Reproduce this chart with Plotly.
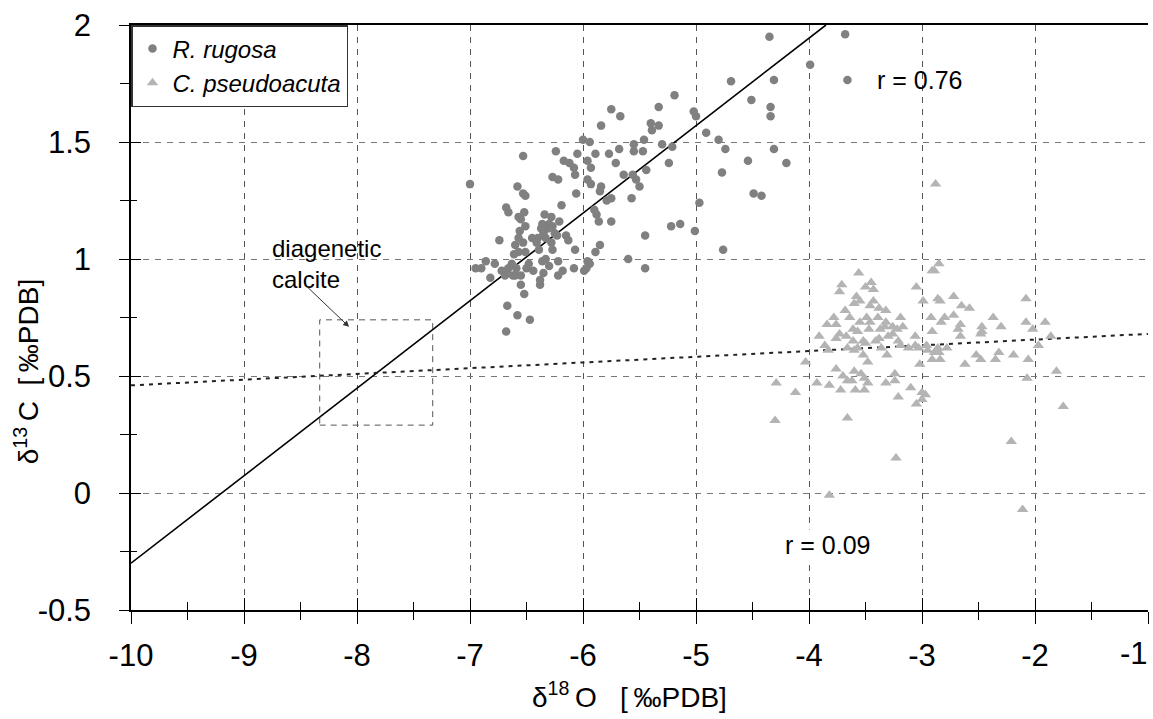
import plotly.graph_objects as go

# ---------------- data ----------------
rugosa_x = [
    -7.00, -6.58, -6.53, -6.51, -6.27, -6.22, -6.07, -5.96, -5.93, -5.84, -5.85, -5.64, -5.56, -5.53, -5.50,
    -6.06, -6.19, -5.79, -5.75, -5.57, -6.68, -6.66, -6.52, -6.57, -6.55, -6.34, -6.28, -6.36, -6.30, -6.21,
    -5.90, -5.88, -5.86, -5.75, -6.51, -6.56, -6.37, -6.31, -6.27, -6.35, -6.25, -6.15, -6.13, -6.45, -6.40,
    -6.33, -6.23, -6.74, -6.57, -6.41, -6.28, -6.60, -6.53, -6.39, -6.27, -6.57, -6.51, -6.61, -6.07, -5.85,
    -5.89, -5.45, -5.60, -5.45, -5.96, -5.94, -5.97, -5.99, -6.08, -6.18, -6.22, -6.22, -6.30, -6.33, -6.36,
    -6.35, -6.38, -6.38, -6.44, -6.48, -6.50, -6.55, -6.55, -6.52, -6.59, -6.63, -6.66, -6.69, -6.72, -6.78,
    -6.86, -6.90, -6.95, -6.82, -6.62, -6.68, -6.60, -6.67, -6.58, -6.47, -6.68,
    -6.53, -6.24, -6.05, -6.00, -5.94, -6.17, -6.12, -6.08, -5.96, -5.89, -5.93, -5.71, -5.77, -5.68, -5.55,
    -5.55, -5.47, -5.46, -5.44, -5.39, -5.40, -5.33, -5.33, -5.19, -5.75, -5.67, -5.84, -5.30, -5.21, -5.24,
    -5.02, -5.00, -4.91, -4.80, -4.74, -4.54, -4.77, -4.49, -4.42, -4.20, -4.31, -4.34, -4.34, -4.97, -5.22,
    -5.14, -5.01, -4.76,
    -4.35, -3.68, -3.99, -3.66, -4.31, -4.69, -4.51,
]
rugosa_y = [
    1.32, 1.31, 1.28, 1.27, 1.35, 1.34, 1.36, 1.34, 1.32, 1.31, 1.29, 1.36, 1.36, 1.34, 1.31,
    1.28, 1.23, 1.25, 1.26, 1.26, 1.22, 1.20, 1.20, 1.18, 1.17, 1.19, 1.18, 1.15, 1.15, 1.16,
    1.21, 1.19, 1.16, 1.16, 1.14, 1.12, 1.13, 1.13, 1.14, 1.11, 1.11, 1.10, 1.08, 1.09, 1.09,
    1.09, 1.10, 1.08, 1.09, 1.07, 1.07, 1.06, 1.07, 1.04, 1.04, 1.03, 1.03, 1.02, 1.04, 1.06,
    1.03, 1.10, 1.00, 0.96, 0.99, 0.98, 0.96, 0.95, 0.96, 0.95, 0.99, 0.93, 0.97, 1.00, 0.99,
    0.94, 0.91, 0.89, 0.95, 0.98, 0.96, 0.93, 0.89, 0.85, 0.96, 0.98, 0.96, 0.93, 0.95, 0.98,
    0.99, 0.96, 0.96, 0.92, 0.93, 0.95, 0.93, 0.80, 0.76, 0.74, 0.69,
    1.44, 1.46, 1.45, 1.51, 1.50, 1.42, 1.41, 1.39, 1.42, 1.45, 1.39, 1.41, 1.45, 1.47, 1.49,
    1.46, 1.46, 1.51, 1.38, 1.55, 1.58, 1.57, 1.65, 1.70, 1.64, 1.61, 1.57, 1.49, 1.48, 1.41,
    1.63, 1.61, 1.54, 1.51, 1.47, 1.42, 1.37, 1.28, 1.27, 1.41, 1.47, 1.65, 1.61, 1.24, 1.14,
    1.15, 1.12, 1.04,
    1.95, 1.96, 1.83, 1.765, 1.765, 1.76, 1.68,
]

pseudo_x = [
    -3.56, -3.71, -3.73, -3.45, -3.50, -3.43, -3.58, -3.60, -3.55, -3.43, -3.46, -3.68, -3.38, -3.32, -3.78,
    -3.84, -3.76, -3.64, -3.55, -3.49, -3.46, -3.39, -3.32, -3.19, -3.61, -3.57, -3.47, -3.37, -3.33, -3.26,
    -3.22, -3.17, -3.91, -3.73, -3.67, -3.76, -3.61, -3.52, -3.50, -3.41, -3.38, -3.30, -3.26, -3.21, -3.86,
    -3.83, -3.66, -3.60, -3.57, -3.36, -3.31, -3.52, -3.19, -3.12, -3.06, -3.06, -3.03, -2.96, -2.95, -2.89,
    -2.85, -2.86, -2.78, -2.91, -2.92, -2.83, -2.80, -2.72, -2.68, -2.66, -2.66, -2.99, -3.05, -2.86, -2.84,
    -2.72, -2.65, -2.58, -2.91, -2.89, -2.85, -2.37, -2.47, -2.47, -2.48, -2.30, -2.52, -2.48, -2.32, -2.35,
    -2.19, -2.62, -2.08, -2.08, -2.02, -1.91, -1.86, -1.97, -2.06, -2.07, -1.81, -1.75, -2.21, -2.11, -4.03,
    -4.29, -4.12, -4.30, -3.82, -3.66, -3.23, -3.93, -3.82, -3.76, -3.70, -3.66, -3.62, -3.60, -3.54, -3.51,
    -3.48, -3.72, -3.59, -3.51, -3.48, -3.32, -3.24, -3.24, -3.21, -3.10, -3.02, -3.05, -3.00, -2.97, -3.00,
    -2.91, -2.84, -2.88,
]
pseudo_y = [
    0.94, 0.89, 0.86, 0.90, 0.88, 0.87, 0.84, 0.81, 0.82, 0.82, 0.80, 0.78, 0.79, 0.78, 0.75,
    0.72, 0.72, 0.75, 0.73, 0.75, 0.73, 0.75, 0.73, 0.75, 0.70, 0.69, 0.70, 0.70, 0.71, 0.71,
    0.70, 0.71, 0.67, 0.68, 0.67, 0.66, 0.65, 0.65, 0.64, 0.65, 0.66, 0.67, 0.68, 0.65, 0.63,
    0.61, 0.62, 0.61, 0.62, 0.62, 0.59, 0.59, 0.63, 0.62, 0.67, 0.63, 0.62, 0.63, 0.61, 0.60,
    0.60, 0.62, 0.62, 0.69, 0.75, 0.73, 0.75, 0.76, 0.70, 0.72, 0.67, 0.82, 0.88, 0.83, 0.82,
    0.84, 0.80, 0.79, 0.95, 0.95, 0.98, 0.75, 0.71, 0.69, 0.68, 0.71, 0.59, 0.57, 0.60, 0.57,
    0.59, 0.55, 0.83, 0.73, 0.70, 0.73, 0.67, 0.63, 0.57, 0.49, 0.52, 0.37, 0.22, -0.07, 0.56,
    0.47, 0.43, 0.31, -0.01, 0.32, 0.15, 0.47, 0.46, 0.53, 0.50, 0.48, 0.48, 0.52, 0.51, 0.49,
    0.47, 0.44, 0.44, 0.44, 0.56, 0.47, 0.51, 0.48, 0.41, 0.45, 0.55, 0.38, 0.43, 0.42, 0.40,
    0.57, 0.57, 1.32,
]

# regression lines (end points)
fit_rugosa_x = [-10.0, -3.85]
fit_rugosa_y = [-0.30, 2.00]
fit_pseudo_x = [-10.0, -1.0]
fit_pseudo_y = [0.46, 0.68]

# diagenetic calcite box
box_x = [-8.33, -7.33]
box_y = [0.29, 0.74]

x_ticks = [-10, -9, -8, -7, -6, -5, -4, -3, -2, -1]
x_tick_labels = ["-10", "-9", "-8", "-7", "-6", "-5", "-4", "-3", "-2", "-1"]
y_ticks = [-0.5, 0, 0.5, 1, 1.5, 2]
y_tick_labels = ["-0.5", "0", "0.5", "1", "1.5", "2"]
x_minor = [v + 0.5 for v in x_ticks[:-1]]
y_minor = [v + 0.25 for v in y_ticks[:-1]]

FONT = "Liberation Sans, Arial, sans-serif"

fig = go.Figure()

fig.add_trace(go.Scatter(
    x=fit_rugosa_x, y=fit_rugosa_y, mode="lines",
    line=dict(color="black", width=1.6), showlegend=False, hoverinfo="skip"))
fig.add_trace(go.Scatter(
    x=fit_pseudo_x, y=fit_pseudo_y, mode="lines",
    line=dict(color="#222222", width=2, dash="4px,5px"), showlegend=False, hoverinfo="skip"))

fig.add_trace(go.Scatter(
    x=rugosa_x, y=rugosa_y, mode="markers", name="<i>R. rugosa</i>",
    marker=dict(symbol="circle", size=8.5, color="#808080", line=dict(width=0))))
fig.add_trace(go.Scatter(
    x=pseudo_x, y=pseudo_y, mode="markers", name="<i>C. pseudoacuta</i>",
    marker=dict(symbol="triangle-up", size=10, color="#b4b4b4", line=dict(width=0))))

# invisible trace to activate overlay axes (inside ticks)
fig.add_trace(go.Scatter(x=[None], y=[None], xaxis="x2", yaxis="y2",
                         showlegend=False, hoverinfo="skip"))

fig.add_shape(type="rect", x0=box_x[0], x1=box_x[1], y0=box_y[0], y1=box_y[1],
              line=dict(color="#555555", width=1, dash="6px,5px"))

# annotations
fig.add_annotation(x=-8.77, y=1.11, xref="x", yref="y", xanchor="left", yanchor="top",
                   text="diagenetic<br>calcite", showarrow=False, align="left",
                   font=dict(family=FONT, size=24, color="black"))
fig.add_annotation(x=-8.07, y=0.71, xref="x", yref="y", text="", showarrow=True,
                   ax=-44, ay=-42, arrowhead=2, arrowsize=1.2, arrowwidth=1, arrowcolor="#333333")
fig.add_annotation(x=-3.42, y=1.765, xref="x", yref="y", xanchor="left", yanchor="middle",
                   text="r = 0.76", showarrow=False,
                   font=dict(family=FONT, size=25, color="black"))
fig.add_annotation(x=-4.23, y=-0.222, xref="x", yref="y", xanchor="left", yanchor="middle",
                   text="r = 0.09", showarrow=False, bgcolor="white",
                   font=dict(family=FONT, size=25, color="black"))
# last x tick label, kept inside the figure edge
fig.add_annotation(x=x_ticks[-1], y=0, xref="x", yref="paper", xanchor="right", yanchor="middle",
                   xshift=2, yshift=-43, text=x_tick_labels[-1], showarrow=False,
                   font=dict(family=FONT, size=31, color="black"))
# axis titles
fig.add_annotation(x=0.49, y=0, xref="paper", yref="paper", yshift=-85, yanchor="middle",
                   text="δ<sup>18</sup>\u2009O\u00a0\u00a0\u00a0[\u2009‰PDB]", showarrow=False,
                   font=dict(family=FONT, size=28, color="black"))
fig.add_annotation(x=0, y=0.52, xref="paper", yref="y", xshift=-104, xanchor="center",
                   text="δ<sup>13</sup>\u2009C\u00a0\u00a0[\u2009‰PDB]", showarrow=False, textangle=-90,
                   font=dict(family=FONT, size=28, color="black"))

fig.update_layout(
    width=1153, height=719,
    margin=dict(l=131, r=5, t=25, b=109, autoexpand=False),
    paper_bgcolor="white", plot_bgcolor="white",
    font=dict(family=FONT, color="black"),
    legend=dict(x=0, y=1, xanchor="left", yanchor="top", bgcolor="white",
                bordercolor="#333333", borderwidth=1.5,
                font=dict(family=FONT, size=24, color="black"),
                itemwidth=30, tracegroupgap=0),
    xaxis=dict(
        range=[-10, -1], tickmode="array", tickvals=x_ticks,
        ticktext=x_tick_labels[:-1] + [""],
        automargin=False,
        showline=True, linecolor="black", linewidth=1.5, mirror=True,
        ticks="outside", ticklen=12, tickwidth=1.2, tickcolor="black",
        tickfont=dict(family=FONT, size=31, color="black"), ticklabelstandoff=5,
        showgrid=True, gridcolor="#555555", gridwidth=1, griddash="6px,6px",
        zeroline=False,
        minor=dict(tickmode="array", tickvals=x_minor, ticks="outside", ticklen=8,
                   tickcolor="black", tickwidth=1.2, showgrid=False),
    ),
    yaxis=dict(
        range=[-0.5, 2], tickmode="array", tickvals=y_ticks, ticktext=y_tick_labels,
        automargin=False, ticklabeloverflow="allow",
        showline=True, linecolor="black", linewidth=1.5, mirror=False,
        ticks="outside", ticklen=10, tickwidth=1.2, tickcolor="black",
        tickfont=dict(family=FONT, size=31, color="black"), ticklabelstandoff=22,
        showgrid=True, gridcolor="#777777", gridwidth=1, griddash="6px,6px",
        zeroline=False,
        minor=dict(tickmode="array", tickvals=y_minor, ticks="outside", ticklen=9,
                   tickcolor="black", tickwidth=1.2, showgrid=False),
    ),
    xaxis2=dict(
        overlaying="x", anchor="y2", side="bottom", range=[-10, -1], tickmode="array",
        automargin=False,
        tickvals=x_ticks, ticks="inside", ticklen=12, tickwidth=1.2, tickcolor="black",
        showticklabels=False, showgrid=False, showline=False, zeroline=False,
        minor=dict(tickmode="array", tickvals=x_minor, ticks="inside", ticklen=8,
                   tickcolor="black", tickwidth=1.2, showgrid=False),
    ),
    yaxis2=dict(
        overlaying="y", anchor="x2", side="left", range=[-0.5, 2], tickmode="array",
        automargin=False,
        tickvals=y_ticks, ticks="inside", ticklen=10, tickwidth=1.2, tickcolor="black",
        showticklabels=False, showgrid=False, showline=False, zeroline=False,
        minor=dict(tickmode="array", tickvals=y_minor, ticks="inside", ticklen=6,
                   tickcolor="black", tickwidth=1.2, showgrid=False),
    ),
)

fig.write_html("out.html", config={"displayModeBar": False},
               post_script="document.body.style.margin='0';document.body.style.overflow='hidden';")
